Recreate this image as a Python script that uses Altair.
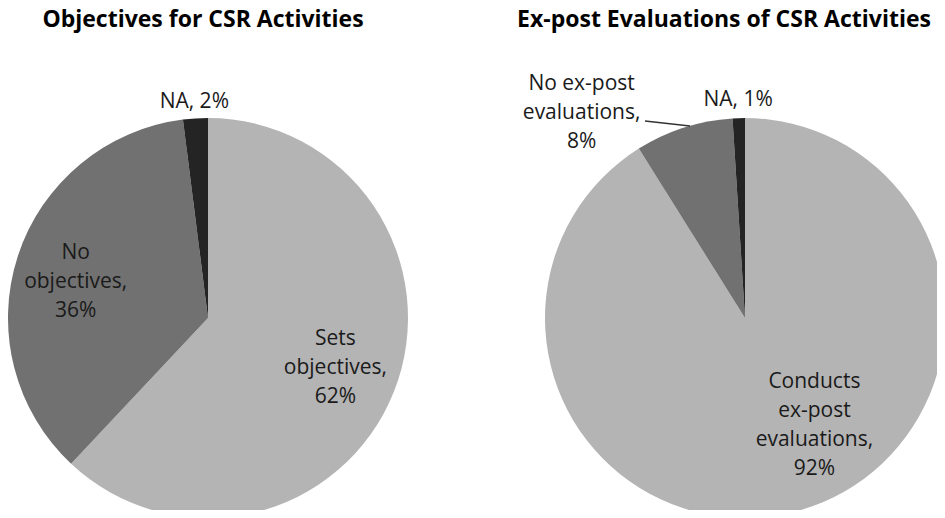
import altair as alt
import pandas as pd

titles = ["Objectives for CSR Activities", "Ex-post Evaluations of CSR Activities"]

left_categories = ["Sets objectives", "No objectives", "NA"]
left_values = [62, 36, 2]
left_labels = ["Sets\nobjectives,\n62%", "No\nobjectives,\n36%", "NA, 2%"]

right_categories = ["Conducts ex-post evaluations", "No ex-post evaluations", "NA"]
right_values = [92, 8, 1]
right_labels = ["Conducts\nex-post\nevaluations,\n92%", "No ex-post\nevaluations,\n8%", "NA, 1%"]

shades = ["#b4b4b4", "#717171", "#242424"]
FONT = "Open Sans"


def pie(cats, vals, labs, cx, cy, label_specs):
    df = pd.DataFrame({"category": cats, "value": vals, "label": labs,
                       "order": list(range(len(cats)))})
    base = alt.Chart(df).encode(
        theta=alt.Theta("value:Q", stack=True),
        order=alt.Order("order:Q", sort="ascending"),
        x=alt.value(cx),
        y=alt.value(cy),
    )
    arc = base.mark_arc(outerRadius=200).encode(
        color=alt.Color("category:N", scale=alt.Scale(domain=cats, range=shades), legend=None)
    )
    layers = [arc]
    for cat, r, dx, dy in label_specs:
        t = base.mark_text(
            font=FONT, fontSize=21, lineBreak="\n", lineHeight=29,
            align="center", baseline="middle", dx=dx, dy=dy, color="#1a1a1a",
        ).encode(
            radius=alt.value(r),
            text=alt.condition(f"datum.category === '{cat}'", "label:N", alt.value("")),
        )
        layers.append(t)
    return layers


left_layers = pie(left_categories, left_values, left_labels, 200, 310, [
    ("Sets objectives", 137, 0, -29),
    ("No objectives", 137, -2, -23),
    ("NA", 218, 0, 2),
])
right_layers = pie(right_categories, right_values, right_labels, 737, 310, [
    ("Conducts ex-post evaluations", 110, 39, -42),
    ("No ex-post evaluations", 230, -93, -15),
    ("NA", 220, 0, 2),
])

title_layers = []
for t, tx in zip(titles, [195, 716]):
    title_layers.append(
        alt.Chart(pd.DataFrame({"t": [t]})).mark_text(
            font=FONT, fontSize=23, fontWeight="bold", color="#000000",
            align="center", baseline="alphabetic",
        ).encode(text="t:N", x=alt.value(tx), y=alt.value(19))
    )

leader = alt.Chart(pd.DataFrame({"k": [0]})).mark_rule(color="#333333", strokeWidth=1.3).encode(
    x=alt.value(637), x2=alt.value(682), y=alt.value(113), y2=alt.value(118)
)

chart = alt.layer(*left_layers, *right_layers, *title_layers, leader).resolve_scale(
    theta="independent", color="independent"
).properties(
    width=929, height=502, padding=0,
    autosize=alt.AutoSizeParams(type="none"),
).configure_view(stroke=None)

chart.save("out.html", embed_options={"renderer": "svg", "actions": False})
